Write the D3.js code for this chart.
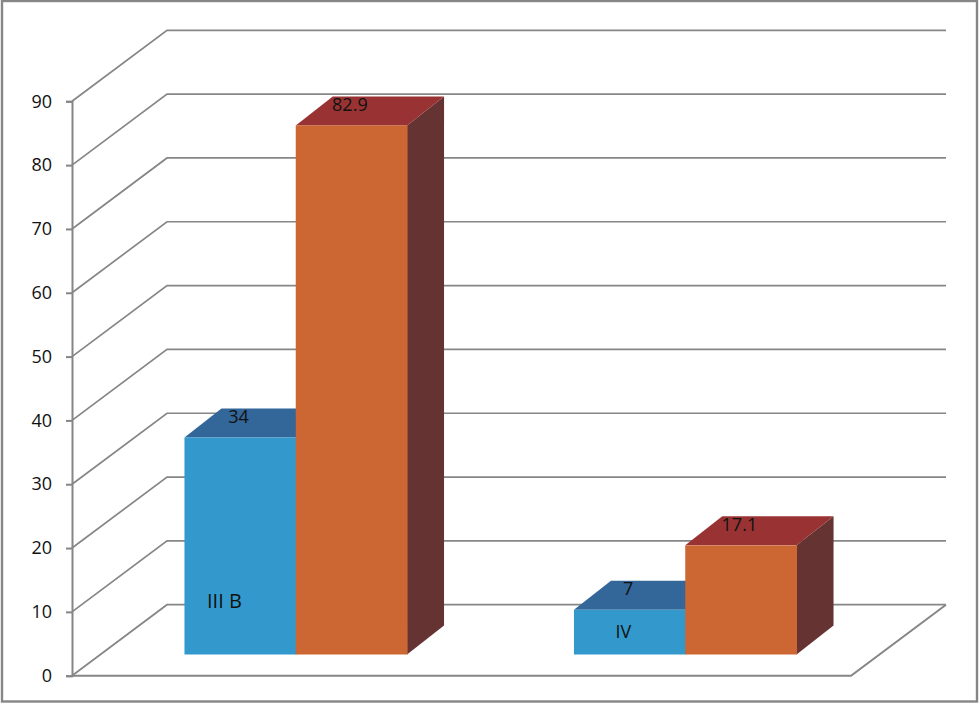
<!DOCTYPE html>
<html>
<head>
<meta charset="utf-8">
<script src="https://cdn.jsdelivr.net/npm/d3@7"></script>
<style>
html,body{margin:0;padding:0;background:#fff;overflow:hidden}
svg{display:block}
text{font-family:"Open Sans","Noto Sans",sans-serif;fill:#111}
</style>
</head>
<body>
<svg id="chart" width="979" height="703"></svg>
<script>
const categories = ["III B", "IV"];
const seriesNames = ["A", "B"];
const seriesA = [34, 7];
const seriesB = [82.9, 17.1];
const yTicks = [0, 10, 20, 30, 40, 50, 60, 70, 80, 90];

const svg = d3.select("#chart");
const GRID = "#868686";
const colors = {
  A: {front: "#3399cc", top: "#336699", side: "#2f5f8f"},
  B: {front: "#cc6633", top: "#993333", side: "#663333"}
};

const y = d3.scaleLinear().domain([0, 90]).range([675.7, 101.3]);
const wallDx = 95, wallDy = -71;      // full depth of the floor
const baseDx = 29, baseDy = -21.2;    // front plane of the bars
const barDx = 37, barDy = -29;        // depth of one bar

const x0 = d3.scaleBand().domain(categories)
  .range([72 + baseDx, 851 + baseDx]);
// gap width of 150%: 0.75 of a bar on each side of a group
const x2 = d3.scaleBand().domain(seriesNames)
  .range([0, x0.bandwidth()]).paddingInner(0).paddingOuter(0.75);

// frame
svg.append("rect").attr("x", 2).attr("y", 1).attr("width", 975).attr("height", 700.5)
  .attr("fill", "#fff").attr("stroke", GRID).attr("stroke-width", 2.4);

// gridlines on the side wall and back wall
const gl = svg.append("g").attr("fill", "none").attr("stroke", GRID).attr("stroke-width", 1.7);
const xLeft = x0.range()[0] - baseDx, xRight = x0.range()[1] - baseDx;
yTicks.forEach(t => {
  const p = d3.path();
  p.moveTo(xLeft, y(t));
  p.lineTo(xLeft + wallDx, y(t) + wallDy);
  p.lineTo(xRight + wallDx, y(t) + wallDy);
  gl.append("path").attr("d", p.toString());
});
// floor front edge and right edge
const floor = d3.path();
floor.moveTo(xLeft, y(0));
floor.lineTo(xRight, y(0));
floor.lineTo(xRight + wallDx, y(0) + wallDy);
gl.append("path").attr("d", floor.toString()).attr("stroke-width", 2);

// value axis
const axis = d3.axisLeft(y).tickValues(yTicks).tickSize(6).tickPadding(14).tickFormat(d3.format("d"));
const ax = svg.append("g").attr("transform", `translate(${xLeft},0)`).call(axis);
ax.select(".domain").attr("stroke", GRID).attr("stroke-width", 2);
ax.selectAll(".tick line").attr("stroke", GRID).attr("stroke-width", 2);
ax.selectAll("text").attr("font-size", 18).style("font-family", '"Open Sans","Noto Sans",sans-serif').attr("fill", "#111");

// bars
const seriesValues = {A: seriesA, B: seriesB};
const bars = [];
categories.forEach((c, i) => seriesNames.forEach(s => bars.push({c, s, v: seriesValues[s][i]})));
const base = y(0) + baseDy;
const h = v => y(0) - y(v);
const poly = pts => pts.map(p => p.join(",")).join(" ");

svg.append("g").selectAll("g").data(bars).join("g").each(function (d) {
  const l = x0(d.c) + x2(d.s), r = l + x2.bandwidth();
  const t = base - h(d.v), b = base;
  const sel = d3.select(this);
  sel.append("polygon").attr("fill", colors[d.s].side)
    .attr("points", poly([[r, t], [r + barDx, t + barDy], [r + barDx, b + barDy], [r, b]]));
  sel.append("polygon").attr("fill", colors[d.s].top)
    .attr("points", poly([[l, t], [l + barDx, t + barDy], [r + barDx, t + barDy], [r, t]]));
  sel.append("rect").attr("fill", colors[d.s].front)
    .attr("x", l).attr("y", t).attr("width", r - l + 0.5).attr("height", b - t);
});

// value labels, on the top face of each bar
svg.append("g").selectAll("text").data(bars).join("text")
  .attr("x", d => x0(d.c) + x2(d.s) + x2.bandwidth() / 2 - 1.5)
  .attr("y", d => base - h(d.v) + barDy + 14.5)
  .attr("text-anchor", "middle").attr("font-size", 18)
  .text(d => d3.format("")(d.v));

// category labels, drawn inside the first bar of each group
svg.append("g").selectAll("text").data(categories).join("text")
  .attr("x", (d, i) => x0(d) + x2("A") + (i === 0 ? 40 : 49.5))
  .attr("y", (d, i) => i === 0 ? y(10) + -4 : y(0) - 38)
  .attr("text-anchor", "middle").attr("font-size", d => d === "IV" ? 18 : 20)
  .text(d => d);
</script>
</body>
</html>
